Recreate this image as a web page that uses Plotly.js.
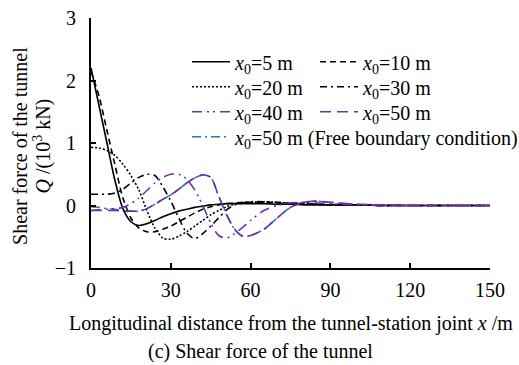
<!DOCTYPE html>
<html>
<head>
<meta charset="utf-8">
<script src="https://cdn.plot.ly/plotly-3.0.1.min.js"></script>
<style>html,body{margin:0;padding:0;background:#fff;}#chart{width:519px;height:365px;}</style>
</head>
<body>
<div id="chart"></div>
<script>
// Longitudinal distance x (m)
const xDist = [0,3,6,9,12,15,18,21,24,27,30,33,36,39,42,45,48,51,54,57,60,65,70,75,80,85,90,100,110,120,135,150];
// Shear force Q (10^3 kN)
const q5  = [2.2,1.6,1.0,0.4,-0.05,-0.26,-0.32,-0.29,-0.24,-0.18,-0.13,-0.09,-0.06,-0.03,-0.01,0.01,0.02,0.03,0.03,0.03,0.03,0.03,0.02,0.02,0.01,0.01,0.01,0.01,0,0,0,0];
const q10 = [2.15,1.75,1.2,0.65,0.12,-0.2,-0.36,-0.42,-0.42,-0.38,-0.33,-0.26,-0.19,-0.12,-0.06,-0.02,0.01,0.03,0.04,0.05,0.05,0.05,0.04,0.03,0.02,0.02,0.01,0.01,0,0,0,0];
const q20 = [0.93,0.92,0.88,0.8,0.66,0.48,0.25,-0.08,-0.36,-0.52,-0.54,-0.49,-0.42,-0.33,-0.24,-0.15,-0.08,-0.02,0.02,0.04,0.05,0.06,0.05,0.04,0.03,0.02,0.01,0.01,0,0,0,0];
const q30 = [0.18,0.18,0.18,0.2,0.26,0.36,0.45,0.5,0.48,0.3,0.07,-0.2,-0.44,-0.53,-0.45,-0.33,-0.2,-0.07,0.01,0.04,0.06,0.06,0.05,0.04,0.03,0.02,0.01,0.01,0,0,0,0];
const q40 = [-0.08,-0.07,-0.06,-0.05,-0.03,0.03,0.12,0.24,0.36,0.45,0.5,0.5,0.42,0.25,0.0,-0.28,-0.48,-0.52,-0.45,-0.35,-0.24,-0.08,0.0,0.04,0.05,0.04,0.03,0.01,0,0,0,0];
const q50 = [-0.08,-0.08,-0.08,-0.08,-0.09,-0.09,-0.09,-0.05,0.02,0.1,0.17,0.26,0.36,0.44,0.49,0.45,0.15,-0.15,-0.38,-0.49,-0.48,-0.38,-0.2,-0.03,0.05,0.07,0.05,0.02,0.01,0,0,0];
const q50free = [-0.02,-0.03,-0.05,-0.06,-0.08,-0.09,-0.09,-0.05,0.02,0.1,0.17,0.26,0.36,0.44,0.49,0.45,0.15,-0.15,-0.38,-0.49,-0.48,-0.38,-0.2,-0.03,0.05,0.07,0.05,0.02,0.01,0,0,0];
const seriesNames = ['<i>x</i><sub>0</sub>=5 m','<i>x</i><sub>0</sub>=10 m','<i>x</i><sub>0</sub>=20 m','<i>x</i><sub>0</sub>=30 m','<i>x</i><sub>0</sub>=40 m','<i>x</i><sub>0</sub>=50 m','<i>x</i><sub>0</sub>=50 m (Free boundary condition)'];
const xTicks = [0,30,60,90,120,150];
const yTicks = [-1,0,1,2,3];
const yTickText = ['\u22121','0','1','2','3'];

const FONT = 'Liberation Serif';
const PURPLE = '#7030A0', BLUE = '#2E75B6';
const styles = [
  {color:'#000', dash:'solid'},
  {color:'#000', dash:'6px,4px'},
  {color:'#000', dash:'2px,2px'},
  {color:'#000', dash:'7px,4px,2px,4px'},
  {color:PURPLE, dash:'10px,5px,2px,4px,2px,5px'},
  {color:PURPLE, dash:'11px,6px'},
  {color:BLUE, dash:'9px,4px,2px,4px'}
];
// legend slot per series: [column, row]
const colX = [0.2406, 0.5614];
const rowY = [0.825, 0.725, 0.625, 0.525];
const slot = [[0,0],[1,0],[0,1],[1,1],[0,2],[1,2],[0,3]];
const ys = [q5,q10,q20,q30,q40,q50,q50free];
const order = [6,0,1,2,3,4,5];
const traces = order.map(i => ({
  x: xDist, y: ys[i], type:'scatter', mode:'lines', name: seriesNames[i],
  line:{color:styles[i].color, dash:styles[i].dash, width:1.6, shape:'spline', smoothing:0.8},
  legend: i === 0 ? 'legend' : 'legend' + (i + 1)
}));

const tf = {family:FONT, size:20, color:'#000'};
const layout = {
  width:519, height:365,
  margin:{l:91, r:29, t:18, b:97, autoexpand:false},
  paper_bgcolor:'#fff', plot_bgcolor:'#fff',
  font:tf,
  showlegend:true,
  xaxis:{range:[0,150], tickvals:xTicks, ticks:'inside', ticklen:5, tickwidth:2, tickcolor:'#000', tickfont:tf, showline:true, linewidth:2, linecolor:'#000', showgrid:false, zeroline:false, ticklabelstandoff:3, automargin:false, fixedrange:true},
  yaxis:{range:[-1,3], tickvals:yTicks, ticktext:yTickText, ticks:'inside', ticklen:5, tickwidth:2, tickcolor:'#000', tickfont:tf, showline:true, linewidth:2, linecolor:'#000', showgrid:false, zeroline:false, ticklabelstandoff:9, automargin:false, fixedrange:true},
  annotations:[
    {text:'Shear force of the tunnel', xref:'paper', yref:'paper', x:-0.178, y:0.488, xanchor:'center', yanchor:'middle', textangle:-90, showarrow:false, font:tf},
    {text:'<i>Q</i> /(10<sup>3</sup> kN)', xref:'paper', yref:'paper', x:-0.124, y:0.488, xanchor:'center', yanchor:'middle', textangle:-90, showarrow:false, font:tf},
    {text:'Longitudinal distance from the tunnel-station joint <i>x</i> /m', xref:'paper', yref:'paper', x:0.5025, y:-0.22, xanchor:'center', yanchor:'middle', showarrow:false, font:tf},
    {text:'(c) Shear force of the tunnel', xref:'paper', yref:'paper', x:0.4236, y:-0.332, xanchor:'center', yanchor:'middle', showarrow:false, font:tf}
  ]
};
slot.forEach((s, i) => {
  const key = i === 0 ? 'legend' : 'legend' + (i + 1);
  layout[key] = {x: colX[s[0]], y: rowY[s[1]], xanchor:'left', yanchor:'middle', bgcolor:'rgba(0,0,0,0)', borderwidth:0, itemwidth:38, font:tf};
});
Plotly.newPlot('chart', traces, layout, {displayModeBar:false, staticPlot:true});
</script>
</body>
</html>
